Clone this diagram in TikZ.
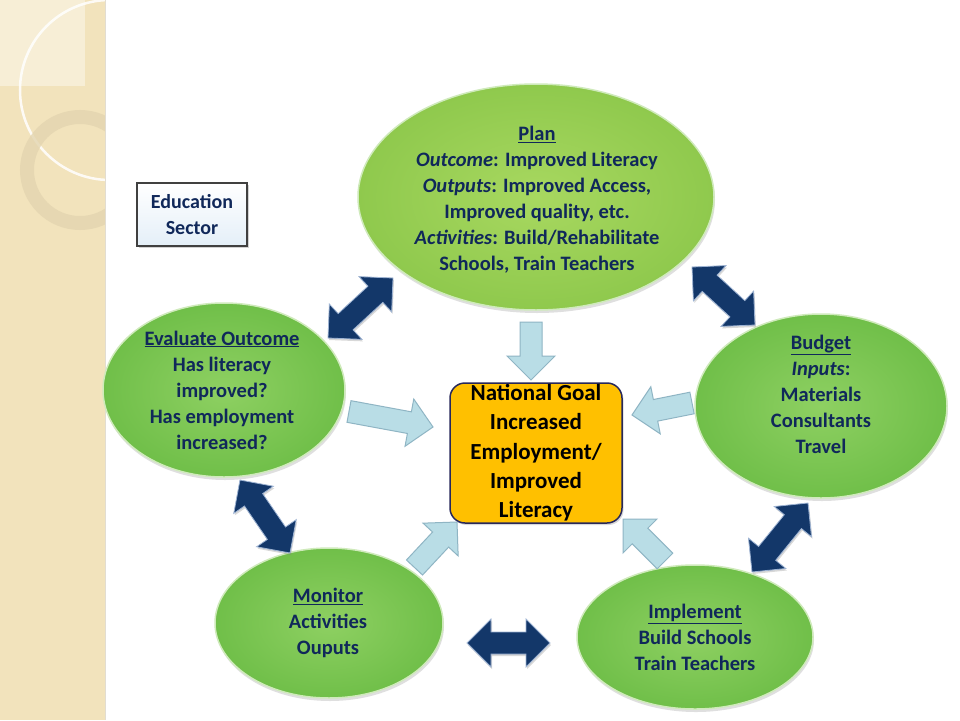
\documentclass[tikz,border=0pt]{standalone}
\usepackage{fontspec}
\setmainfont{Carlito}
\usetikzlibrary{calc,shapes.geometric,shadows}
\definecolor{strip}{HTML}{F2E3BC}
\definecolor{stripl}{HTML}{F7EED6}
\definecolor{ringc}{HTML}{E3D5B0}
\definecolor{navy}{HTML}{10285A}
\definecolor{planin}{HTML}{A8D860}
\definecolor{planout}{HTML}{8FC94D}
\definecolor{grin}{HTML}{8ED062}
\definecolor{grout}{HTML}{70BF49}
\definecolor{rim}{HTML}{CFEABB}
\definecolor{darkfill}{HTML}{133769}
\definecolor{darkedge}{HTML}{9DB3D3}
\definecolor{lightfill}{HTML}{B9DDE6}
\definecolor{lightedge}{HTML}{8FB5C4}
\definecolor{gold}{HTML}{FFC000}
\definecolor{goaledge}{HTML}{28285A}
\definecolor{edufill}{HTML}{E4EFF8}
\tikzset{
  ellnode/.style={ellipse, inner sep=0pt, draw=rim, line width=1.5pt,
    drop shadow={shadow xshift=1pt, shadow yshift=-3pt, opacity=0.25}},
  plancol/.style={inner color=planin, outer color=planout},
  grcol/.style={inner color=grin, outer color=grout},
  txt/.style={align=center, inner sep=0pt, text=navy,
    font=\fontsize{20.5}{26}\selectfont\bfseries},
  lightarr/.style={fill=lightfill, draw=lightedge, line width=1pt, line join=miter},
  darkarr/.style={fill=darkfill, draw=darkedge, line width=0.8pt, line join=miter,
    drop shadow={shadow xshift=1pt, shadow yshift=-2pt, opacity=0.3}},
  goalbox/.style={rectangle, rounded corners=15pt, fill=gold, draw=goaledge,
    line width=1.5pt, align=center, inner sep=0pt,
    font=\fontsize{23}{29.3}\selectfont\bfseries, text=black,
    drop shadow={shadow xshift=1.5pt, shadow yshift=-2pt, opacity=0.3}},
  edubox/.style={rectangle, top color=white, bottom color=edufill, draw=black!75,
    line width=1.2pt, align=center, inner sep=0pt, text=navy,
    font=\fontsize{20}{25.5}\selectfont\bfseries,
    drop shadow={shadow xshift=2pt, shadow yshift=-2pt, opacity=0.35}}
}
\newcommand\blkarrow[2]{%
  \coordinate (hh) at ($(#2)!24pt!(#1)$);
  \filldraw[lightarr] ($(#1)!11pt!90:(#2)$) -- ($(hh)!11pt!90:(#2)$)
    -- ($(hh)!24pt!90:(#2)$) -- (#2) -- ($(hh)!24pt!-90:(#2)$)
    -- ($(hh)!11pt!-90:(#2)$) -- ($(#1)!11pt!-90:(#2)$) -- cycle;}
\newcommand\dblblk[2]{%
  \coordinate (ga) at ($(#1)!24pt!(#2)$);
  \coordinate (gb) at ($(#2)!24pt!(#1)$);
  \filldraw[darkarr] (#1) -- ($(ga)!24pt!90:(#2)$) -- ($(ga)!11pt!90:(#2)$)
    -- ($(gb)!11pt!90:(#2)$) -- ($(gb)!24pt!90:(#2)$) -- (#2)
    -- ($(gb)!24pt!-90:(#2)$) -- ($(gb)!11pt!-90:(#2)$)
    -- ($(ga)!11pt!-90:(#2)$) -- ($(ga)!24pt!-90:(#2)$) -- cycle;}
\begin{document}
\begin{tikzpicture}[x=1pt,y=-1pt]
\useasboundingbox (0,0) rectangle (960,720);
\fill[white] (0,0) rectangle (960,720);
% decorative strip
\fill[strip] (0,0) rectangle (105,720);
\fill[stripl] (0,0) rectangle (85,86);
\begin{scope}
  \clip (0,0) rectangle (105,720);
  \draw[white, line width=2.5pt, opacity=0.85] (110,90) circle[radius=90pt];
  \draw[ringc, line width=14pt, opacity=0.8] (80,170) circle[radius=53pt];
\end{scope}
\draw[ringc!80!black!40, line width=0.8pt] (105.5,0) -- (105.5,720);

% education box
\node[edubox, minimum width=110pt, minimum height=63pt] (edu) at (192,214.5) {Education\\Sector};

% ellipses
\node[ellnode, plancol, minimum width=356pt, minimum height=226pt] (plan) at (536,197) {};
\node[ellnode, grcol, minimum width=242pt, minimum height=174pt] (eval) at (224,390) {};
\node[ellnode, grcol, minimum width=228pt, minimum height=150pt] (mon) at (329,623) {};
\node[ellnode, grcol, minimum width=252pt, minimum height=184pt] (bud) at (821,406) {};
\node[ellnode, grcol, minimum width=236pt, minimum height=144pt] (imp) at (695,637) {};

\node[txt] (plantxt) at (537,200) {\underline{Plan}\\ \textit{Outcome}: Improved Literacy\\ \textit{Outputs}: Improved Access,\\ Improved quality, etc.\\ \textit{Activities}: Build/Rehabilitate\\ Schools, Train Teachers};
\node[txt] (evaltxt) at (222,390) {\underline{Evaluate Outcome}\\ Has literacy\\ improved?\\ Has employment\\ increased?};
\node[txt] (montxt) at (328,623) {\underline{Monitor}\\ Activities\\ Ouputs};
\node[txt] (budtxt) at (821,394) {\underline{Budget}\\ \textit{Inputs}:\\ Materials\\ Consultants\\ Travel};
\node[txt] (imptxt) at (695,637.5) {\underline{Implement}\\ Build Schools\\ Train Teachers};

% goal
\node[goalbox, minimum width=172pt, minimum height=140pt] (goal) at (536,453) {National Goal\\ Increased\\ Employment/\\ Improved\\ Literacy};

% connector end points
\coordinate (pA) at (531,322); \coordinate (pB) at (531,380);
\coordinate (eA) at (349,411.5); \coordinate (eB) at (433,427);
\coordinate (bA) at (692,403); \coordinate (bB) at (632,415);
\coordinate (mA) at (414.5,567.5); \coordinate (mB) at (457,522);
\coordinate (iA) at (665,561); \coordinate (iB) at (623,519);
\blkarrow{pA}{pB}
\blkarrow{eA}{eB}
\blkarrow{bA}{bB}
\blkarrow{mA}{mB}
\blkarrow{iA}{iB}

\coordinate (d1a) at (328,338); \coordinate (d1b) at (393,278);
\coordinate (d2a) at (692,267); \coordinate (d2b) at (755,325);
\coordinate (d3a) at (240,480); \coordinate (d3b) at (290,553);
\coordinate (d4a) at (467,643); \coordinate (d4b) at (550,643);
\coordinate (d5a) at (752,572); \coordinate (d5b) at (808,503);
\dblblk{d1a}{d1b}
\dblblk{d2a}{d2b}
\dblblk{d3a}{d3b}
\dblblk{d4a}{d4b}
\dblblk{d5a}{d5b}
\end{tikzpicture}
\end{document}
